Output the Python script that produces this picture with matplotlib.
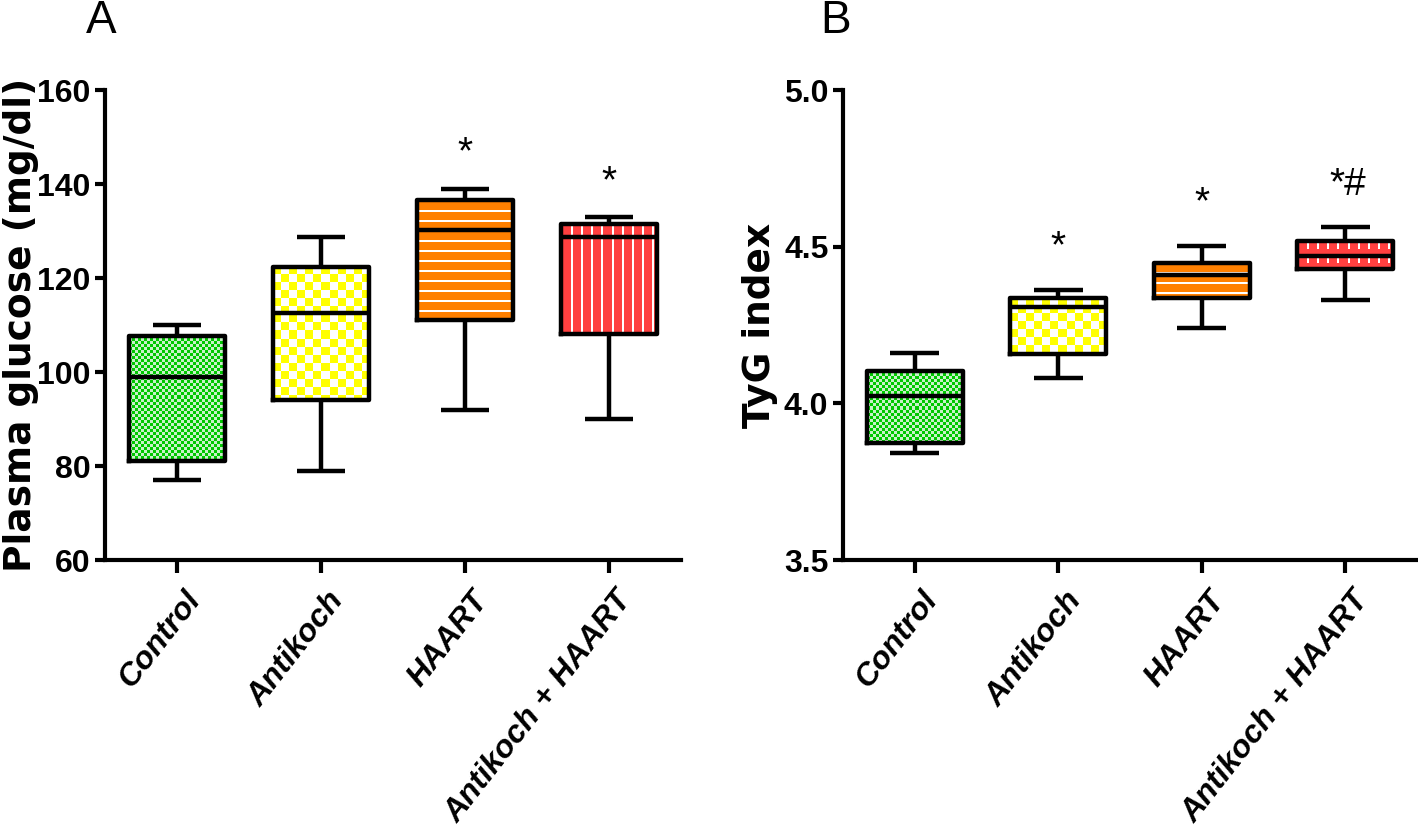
import numpy as np
import matplotlib
matplotlib.use("Agg")
import matplotlib.pyplot as plt
from matplotlib import font_manager
from matplotlib.transforms import ScaledTranslation

# ---------------- data ----------------
groups = ["Control", "Antikoch", "HAART", "Antikoch + HAART"]

glu_whislo = [77, 79, 92, 90]
glu_q1 = [81, 94, 111, 108]
glu_med = [99, 112.5, 130.2, 128.8]
glu_q3 = [107.7, 122.3, 136.5, 131.4]
glu_whishi = [110, 128.8, 139, 133]
glu_marks = ["", "", "*", "*"]
glu_ticks = [60, 80, 100, 120, 140, 160]

tyg_whislo = [3.84, 4.08, 4.24, 4.33]
tyg_q1 = [3.873, 4.156, 4.335, 4.43]
tyg_med = [4.023, 4.307, 4.409, 4.471]
tyg_q3 = [4.103, 4.337, 4.449, 4.517]
tyg_whishi = [4.16, 4.363, 4.503, 4.563]
tyg_marks = ["", "*", "*", "*#"]
tyg_ticks = [3.5, 4.0, 4.5, 5.0]

# ---------------- fonts ----------------
available = {f.name for f in font_manager.fontManager.ttflist}


def pick(*names):
    for n in names:
        if n in available:
            return n
    return "DejaVu Sans"


NARROW = pick("Liberation Sans Narrow", "Liberation Sans")
ARIAL = pick("Liberation Sans", "DejaVu Sans")
WIDE = pick("DejaVu Sans")

# ---------------- patterns ----------------
def pattern(kind, h, w, dashed=False):
    yy, xx = np.mgrid[0:h, 0:w]
    img = np.ones((h, w, 3))
    if kind == "green":
        mask = ((xx // 3 + yy // 3) % 2 == 0)
        img[mask] = np.array([0, 200, 0]) / 255
        img[~mask] = np.array([200, 240, 200]) / 255
    elif kind == "yellow":
        mask = ((xx // 8 + yy // 8) % 2 == 0)
        img[mask] = np.array([255, 255, 0]) / 255
    elif kind == "orange":
        img[:] = np.array([255, 128, 0]) / 255
        white = (yy % 10) < 2
        img[white] = 1.0
    elif kind == "red":
        img[:] = np.array([255, 64, 64]) / 255
        white = (xx % 10) < 2
        if dashed:
            white = white & ((yy % 13) < 8)
        img[white] = 1.0
    return img


kinds = ["green", "yellow", "orange", "red"]

fig = plt.figure(figsize=(14.18, 8.35), dpi=100)
FW, FH = 1418, 835


def panel(rect, whislo, q1, med, q3, whishi, marks, ticks, fmt, ylabel,
          ylabel_x, star_off, dashed):
    ax = fig.add_axes(rect)
    ax.set_xlim(-0.5, 3.5)
    ax.set_ylim(ticks[0], ticks[-1])
    stats = []
    for i in range(len(groups)):
        stats.append(dict(med=med[i], q1=q1[i], q3=q3[i], whislo=whislo[i],
                          whishi=whishi[i], fliers=[]))
    pos = list(range(len(groups)))
    bw = 0.67
    # patterned fills
    for i in pos:
        x0, y0 = ax.transData.transform((i - bw / 2, q1[i]))
        x1, y1 = ax.transData.transform((i + bw / 2, q3[i]))
        w = max(int(round(x1 - x0)), 1)
        h = max(int(round(y1 - y0)), 1)
        img = pattern(kinds[i], h, w, dashed=dashed)
        ax.imshow(img, extent=(i - bw / 2, i + bw / 2, q1[i], q3[i]),
                  aspect="auto", interpolation="nearest", zorder=1)
    lw = 3.2
    ax.bxp(stats, positions=pos, widths=bw, capwidths=0.34, showfliers=False,
           manage_ticks=False, zorder=3,
           boxprops=dict(color="black", lw=lw),
           whiskerprops=dict(color="black", lw=lw, solid_capstyle="butt"),
           capprops=dict(color="black", lw=lw, solid_capstyle="butt"),
           medianprops=dict(color="black", lw=lw))
    ax.set_xlim(-0.5, 3.5)
    ax.set_ylim(ticks[0], ticks[-1])

    for s in ["top", "right"]:
        ax.spines[s].set_visible(False)
    for s in ["left", "bottom"]:
        ax.spines[s].set_linewidth(3)
    ax.set_yticks(ticks)
    ax.set_yticklabels([fmt.format(t) for t in ticks],
                       fontfamily=NARROW, fontweight="bold", fontsize=23)
    ax.tick_params(axis="y", direction="out", length=7.5, width=3, pad=3)
    ax.set_xticks(pos)
    ax.set_xticklabels(groups, rotation=52, ha="right", va="top",
                       rotation_mode="anchor", fontfamily=ARIAL,
                       fontweight="bold", fontstyle="italic", fontsize=23)
    ax.tick_params(axis="x", direction="out", length=9.5, width=3, pad=9)
    off = ScaledTranslation(6 / 100, 0, fig.dpi_scale_trans)
    for lab in ax.get_xticklabels():
        lab.set_transform(lab.get_transform() + off)

    ax.set_ylabel(ylabel, fontfamily=WIDE, fontweight="bold", fontsize=27,
                  va="baseline")
    ax.yaxis.set_label_coords(ylabel_x, 0.5)

    for i, m in enumerate(marks):
        if m:
            ax.annotate(m, xy=(i, whishi[i]), xytext=(3 if len(m) > 1 else 0,
                                                        star_off),
                        textcoords="offset pixels", ha="center", va="baseline",
                        fontfamily=ARIAL, fontsize=28, zorder=5)
    return ax


axA = panel([105 / FW, 275 / FH, 576 / FW, 470 / FH],
            glu_whislo, glu_q1, glu_med, glu_q3, glu_whishi, glu_marks,
            glu_ticks, "{:.0f}", "Plasma glucose (mg/dl)",
            (31 - 105) / 576, 25, False)
axB = panel([843 / FW, 275 / FH, 574 / FW, 470 / FH],
            tyg_whislo, tyg_q1, tyg_med, tyg_q3, tyg_whishi, tyg_marks,
            tyg_ticks, "{:.1f}", "TyG index",
            (770 - 843) / 574, 32, True)

fig.text(101 / FW, 1 - 33 / FH, "A", ha="center", va="baseline",
         fontfamily=NARROW, fontsize=33)
fig.text(836 / FW, 1 - 33 / FH, "B", ha="center", va="baseline",
         fontfamily=NARROW, fontsize=33)

fig.savefig("out.png", dpi=100)
